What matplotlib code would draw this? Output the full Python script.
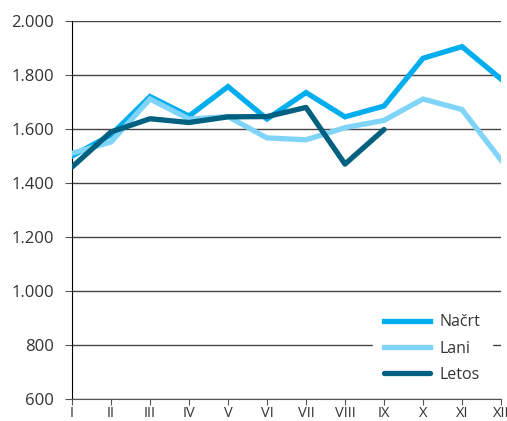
import matplotlib.pyplot as plt
from matplotlib.ticker import FuncFormatter

# monthly values
months = ["I", "II", "III", "IV", "V", "VI", "VII", "VIII", "IX", "X", "XI", "XII"]
nacrt = [1500, 1578, 1720, 1648, 1757, 1637, 1735, 1645, 1685, 1862, 1905, 1785]
lani = [1510, 1552, 1711, 1637, 1646, 1567, 1560, 1605, 1632, 1711, 1672, 1485]
letos = [1459, 1589, 1638, 1624, 1645, 1646, 1680, 1470, 1598]

plt.rcParams['font.family'] = ['Open Sans', 'DejaVu Sans']

fig = plt.figure(figsize=(5.07, 4.21), dpi=100)
ax = fig.add_axes([72 / 507, 22 / 421, 429 / 507, 378 / 421])

x = range(len(months))
ax.plot(x, nacrt, color='#00aeef', lw=3.8, label='Načrt', solid_joinstyle='miter', zorder=3)
ax.plot(x, lani, color='#7fd4f8', lw=3.8, label='Lani', solid_joinstyle='miter', zorder=3)
ax.plot(range(len(letos)), letos, color='#00607f', lw=3.8, label='Letos',
        solid_capstyle='round', zorder=4)

ax.set_xlim(0, len(months) - 1)
ax.set_ylim(600, 2000)
ax.set_yticks(range(600, 2001, 200))
ax.yaxis.set_major_formatter(FuncFormatter(lambda v, p: f"{int(v):,}".replace(",", ".")))
ax.set_xticks(list(x))
ax.set_xticklabels(months)

ax.grid(axis='y', color='#444444', lw=1)
ax.set_axisbelow(True)
for s in ['top', 'right']:
    ax.spines[s].set_visible(False)
ax.spines['left'].set_color('black')
ax.spines['bottom'].set_color('#555555')
ax.tick_params(axis='y', length=5, labelsize=12, colors='#333333', pad=8)
ax.tick_params(axis='y', color='#555555')
ax.tick_params(axis='x', length=4, labelsize=10.5, colors='#333333', pad=1)
ax.tick_params(axis='x', color='#555555')

leg = ax.legend(loc='lower right', bbox_to_anchor=(0.99, 0.0), frameon=True, fontsize=11.5,
                handlelength=2.9, handletextpad=0.6, labelspacing=0.65,
                borderaxespad=0.3, borderpad=0.7)
leg.get_frame().set_facecolor('white')
leg.get_frame().set_edgecolor('white')
leg.get_frame().set_alpha(1)
for t in leg.get_texts():
    t.set_color('#333333')

fig.savefig('out.png', dpi=100)
